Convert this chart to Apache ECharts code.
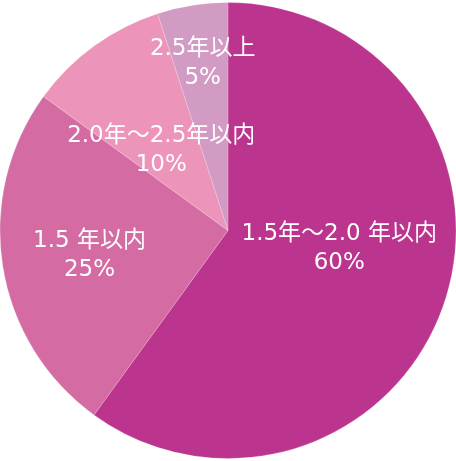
<!DOCTYPE html>
<html>
<head>
<meta charset="utf-8">
<script src="https://cdn.jsdelivr.net/npm/echarts@6/dist/echarts.min.js"></script>
<style>
  html, body { margin: 0; padding: 0; background: #fff; }
  #chart { width: 456px; height: 461px; }
</style>
</head>
<body>
<div id="chart"></div>
<script>
// 分類と割合
const categories = ['1.5年～2.0 年以内', '1.5 年以内', '2.0年～2.5年以内', '2.5年以上']
const values = [60, 25, 10, 5]
const colors = ['#BB348D', '#D46BA3', '#EC94B9', '#D29BC4']
// ラベルの微調整 (px)
const labelShift = [[0, -18], [-23, 7], [2, 15], [-7, -51]]

const chart = echarts.init(document.getElementById('chart'))

chart.setOption({
    animation: false,
    series: [{
        type: 'pie',
        center: ['50%', '50%'],
        radius: [0, 228],
        startAngle: 90,
        clockwise: true,
        silent: true,
        itemStyle: {
            borderColor: 'rgba(255,255,255,0.35)',
            borderWidth: 0.5
        },
        label: {
            show: true,
            position: 'inside',
            color: '#fff',
            fontFamily: '"DejaVu Sans", "Noto Sans CJK JP", sans-serif',
            fontSize: 23,
            lineHeight: 29,
            align: 'center',
            formatter: p => p.name + '\n' + p.value + '%'
        },
        labelLine: { show: false },
        labelLayout: p => ({ dx: labelShift[p.dataIndex][0], dy: labelShift[p.dataIndex][1] }),
        data: categories.map((c, i) => ({
            name: c,
            value: values[i],
            itemStyle: { color: colors[i] }
        }))
    }]
})
</script>
</body>
</html>
